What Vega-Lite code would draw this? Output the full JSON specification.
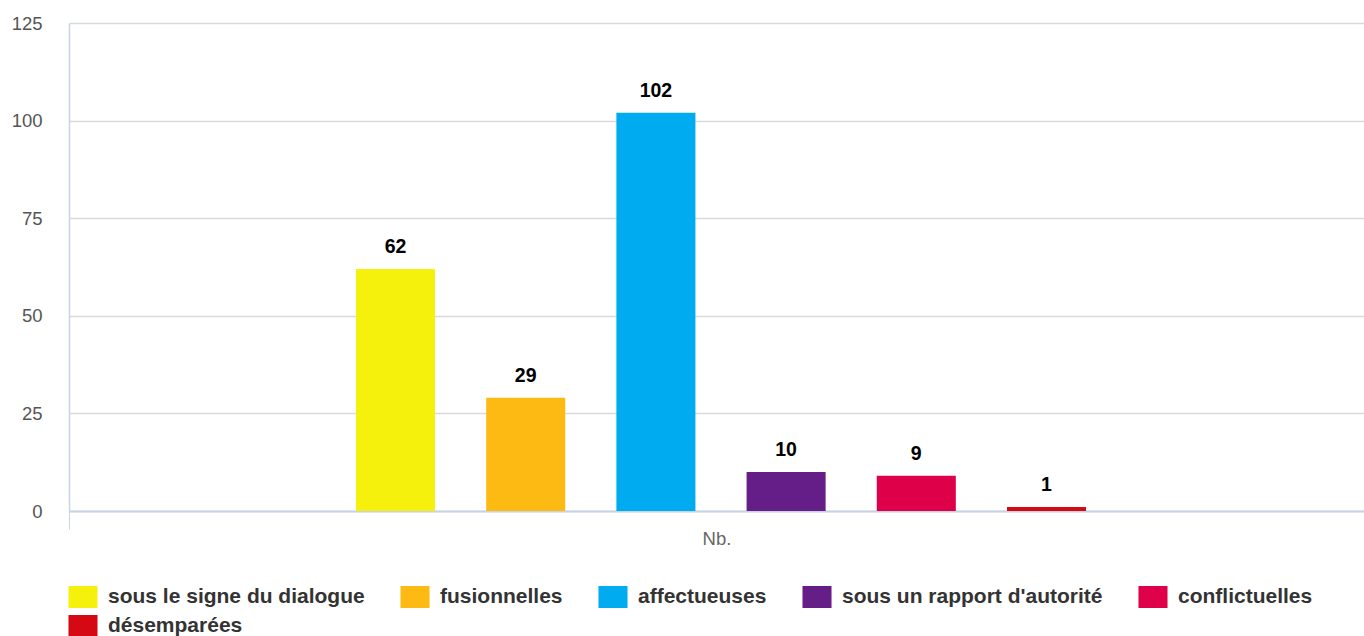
{
  "$schema": "https://vega.github.io/schema/vega-lite/v6.json",
  "width": 1295,
  "height": 488,
  "autosize": {"type": "none"},
  "padding": {"left": 69, "top": 23, "right": 0, "bottom": 125},
  "background": "#ffffff",
  "config": {
    "view": {"stroke": null},
    "font": "Liberation Sans"
  },
  "data": {
    "values": [
      {"cat": "Nb.", "serie": "sous le signe du dialogue", "value": 62},
      {"cat": "Nb.", "serie": "fusionnelles", "value": 29},
      {"cat": "Nb.", "serie": "affectueuses", "value": 102},
      {"cat": "Nb.", "serie": "sous un rapport d'autorité", "value": 10},
      {"cat": "Nb.", "serie": "conflictuelles", "value": 9},
      {"cat": "Nb.", "serie": "désemparées", "value": 1}
    ]
  },
  "encoding": {
    "x": {
      "field": "cat",
      "type": "nominal",
      "title": null,
      "scale": {"paddingInner": 0, "paddingOuter": 0},
      "axis": {
        "labelAngle": 0,
        "labelFont": "Liberation Sans",
        "labelFontSize": 18.5,
        "labelColor": "#666666",
        "labelPadding": 0,
        "tickBand": "extent",
        "tickSize": 18,
        "tickColor": "#c6d3e3",
        "tickWidth": 1,
        "domainColor": "#c6d3e3",
        "domainWidth": 2,
        "grid": false
      }
    },
    "xOffset": {
      "field": "serie",
      "type": "nominal",
      "sort": ["sous le signe du dialogue", "fusionnelles", "affectueuses", "sous un rapport d'autorité", "conflictuelles", "désemparées"],
      "scale": {"range": [221.9, 1082.1], "paddingInner": 0.393, "paddingOuter": 0.5, "align": 0.5}
    },
    "y": {
      "field": "value",
      "type": "quantitative",
      "title": null,
      "scale": {"domain": [0, 125], "nice": false},
      "axis": {
        "values": [0, 25, 50, 75, 100, 125],
        "labelFont": "Liberation Sans",
        "labelFontSize": 18.5,
        "labelColor": "#555555",
        "labelPadding": 27,
        "ticks": false,
        "tickSize": 0,
        "domainColor": "#c6d3e3",
        "domainWidth": 1.5,
        "gridColor": "#d9d9d9",
        "gridWidth": 1.5
      }
    }
  },
  "layer": [
    {
      "mark": {"type": "bar"},
      "encoding": {
        "color": {
          "field": "serie",
          "type": "nominal",
          "title": null,
          "scale": {
            "domain": ["sous le signe du dialogue", "fusionnelles", "affectueuses", "sous un rapport d'autorité", "conflictuelles", "désemparées"],
            "range": ["#f5f10c", "#fdba12", "#00acef", "#651d87", "#df004a", "#d40914"]
          },
          "legend": {
            "orient": "none",
            "legendX": 3,
            "legendY": 563,
            "direction": "horizontal",
            "columns": 5,
            "gridAlign": "each",
            "symbolType": "M-1.32,-1H1.32V1H-1.32Z",
            "symbolSize": 484,
            "symbolStrokeWidth": 0,
            "symbolOpacity": 1,
            "labelFont": "Liberation Sans",
            "labelFontSize": 21,
            "labelFontWeight": "bold",
            "labelColor": "#333333",
            "labelOffset": 14,
            "labelLimit": 0,
            "columnPadding": 35,
            "rowPadding": 7
          }
        }
      }
    },
    {
      "mark": {
        "type": "text",
        "baseline": "alphabetic",
        "dy": -16,
        "font": "Liberation Sans",
        "fontSize": 19.5,
        "fontWeight": "bold",
        "color": "#000000"
      },
      "encoding": {
        "text": {"field": "value", "type": "quantitative"}
      }
    }
  ]
}
